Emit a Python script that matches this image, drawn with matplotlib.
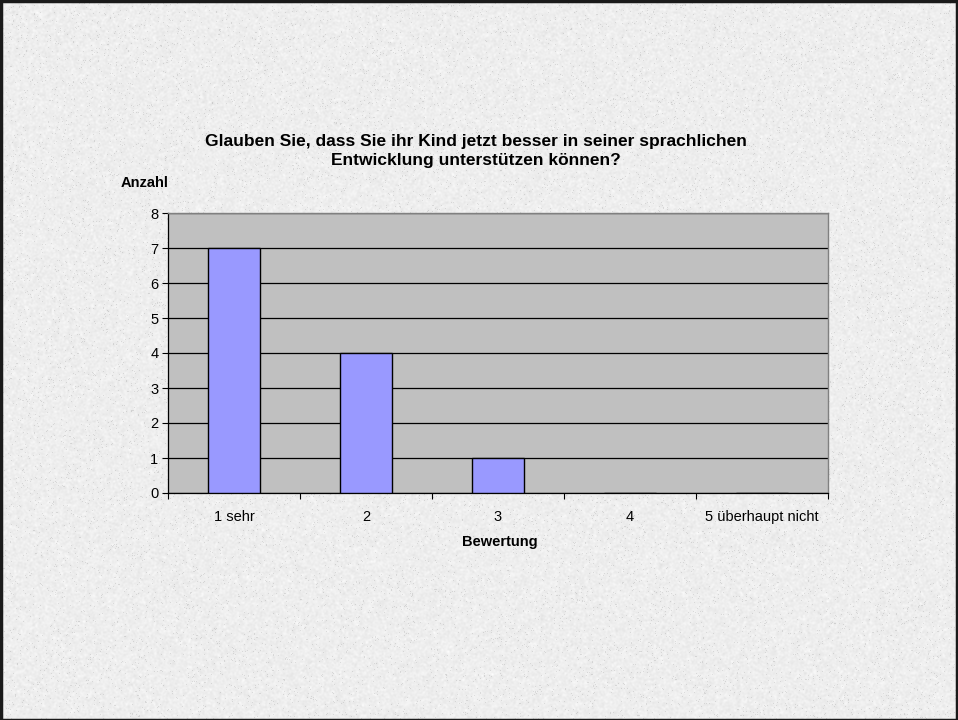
import numpy as np
import matplotlib
matplotlib.use("Agg")
import matplotlib.pyplot as plt

categories = ["1 sehr", "2", "3", "4", "5 überhaupt nicht"]
counts = [7, 4, 1, 0, 0]
y_ticks = [0, 1, 2, 3, 4, 5, 6, 7, 8]

title = "Glauben Sie, dass Sie ihr Kind jetzt besser in seiner sprachlichen\nEntwicklung unterstützen können?"
x_title = "Bewertung"
y_title = "Anzahl"

plt.rcParams["font.family"] = ["Liberation Sans", "DejaVu Sans"]

W, H = 958, 720
fig = plt.figure(figsize=(W / 100, H / 100), dpi=100)

# granite-like slide background
rng = np.random.default_rng(7)
noise = rng.normal(0, 1, (H, W))
k = np.array([0.25, 0.5, 0.25])
sm = np.apply_along_axis(lambda r: np.convolve(r, k, mode="same"), 1, noise)
sm = np.apply_along_axis(lambda c: np.convolve(c, k, mode="same"), 0, sm)
tex = 0.935 + 0.03 * sm
speck = rng.random((H, W)) < 0.025
tex[speck] -= 0.09
tex = np.clip(tex, 0, 1)
bg = fig.add_axes([0, 0, 1, 1])
bg.imshow(np.dstack([tex, tex, tex]), aspect="auto", interpolation="nearest")
bg.set_axis_off()
bg.add_patch(plt.Rectangle((0, 0), W - 1, H - 1, fill=False, edgecolor="#1a1a1a", linewidth=2.5))

# plot area
left, right, top, bottom = 168, 828, 213, 493
ax = fig.add_axes([left / W, 1 - bottom / H, (right - left) / W, (bottom - top) / H])
ax.set_facecolor("#C0C0C0")
x = np.arange(len(categories))
ax.bar(x, counts, width=0.4, color="#9999FF", edgecolor="black", linewidth=1.0, zorder=3)
ax.set_xlim(-0.5, len(categories) - 0.5)
ax.set_ylim(0, 8)
ax.set_yticks(y_ticks)
ax.yaxis.grid(True, color="black", linewidth=0.9, zorder=1)
ax.set_axisbelow(True)

ax.set_xticks(x)
ax.set_xticklabels(categories, fontsize=10.5)
ax.set_xticks(np.arange(-0.5, len(categories)), minor=True)
ax.tick_params(axis="x", which="major", length=0, pad=12)
ax.tick_params(axis="x", which="minor", length=4, width=0.8, color="black")
ax.tick_params(axis="y", length=4, width=0.8, labelsize=10.5, pad=3)

for s in ("top", "right"):
    ax.spines[s].set_color("#808080")
    ax.spines[s].set_linewidth(1.0)
for s in ("left", "bottom"):
    ax.spines[s].set_color("black")
    ax.spines[s].set_linewidth(0.9)

fig.text(476 / W, 1 - 151 / H, title, ha="center", va="center", fontsize=12.5,
         fontweight="bold", linespacing=1.4)
fig.text(145 / W, 1 - 183 / H, y_title, ha="center", va="center", fontsize=10.5, fontweight="bold")
fig.text(500 / W, 1 - 542 / H, x_title, ha="center", va="center", fontsize=10.5, fontweight="bold")

fig.savefig("out.png", dpi=100)
